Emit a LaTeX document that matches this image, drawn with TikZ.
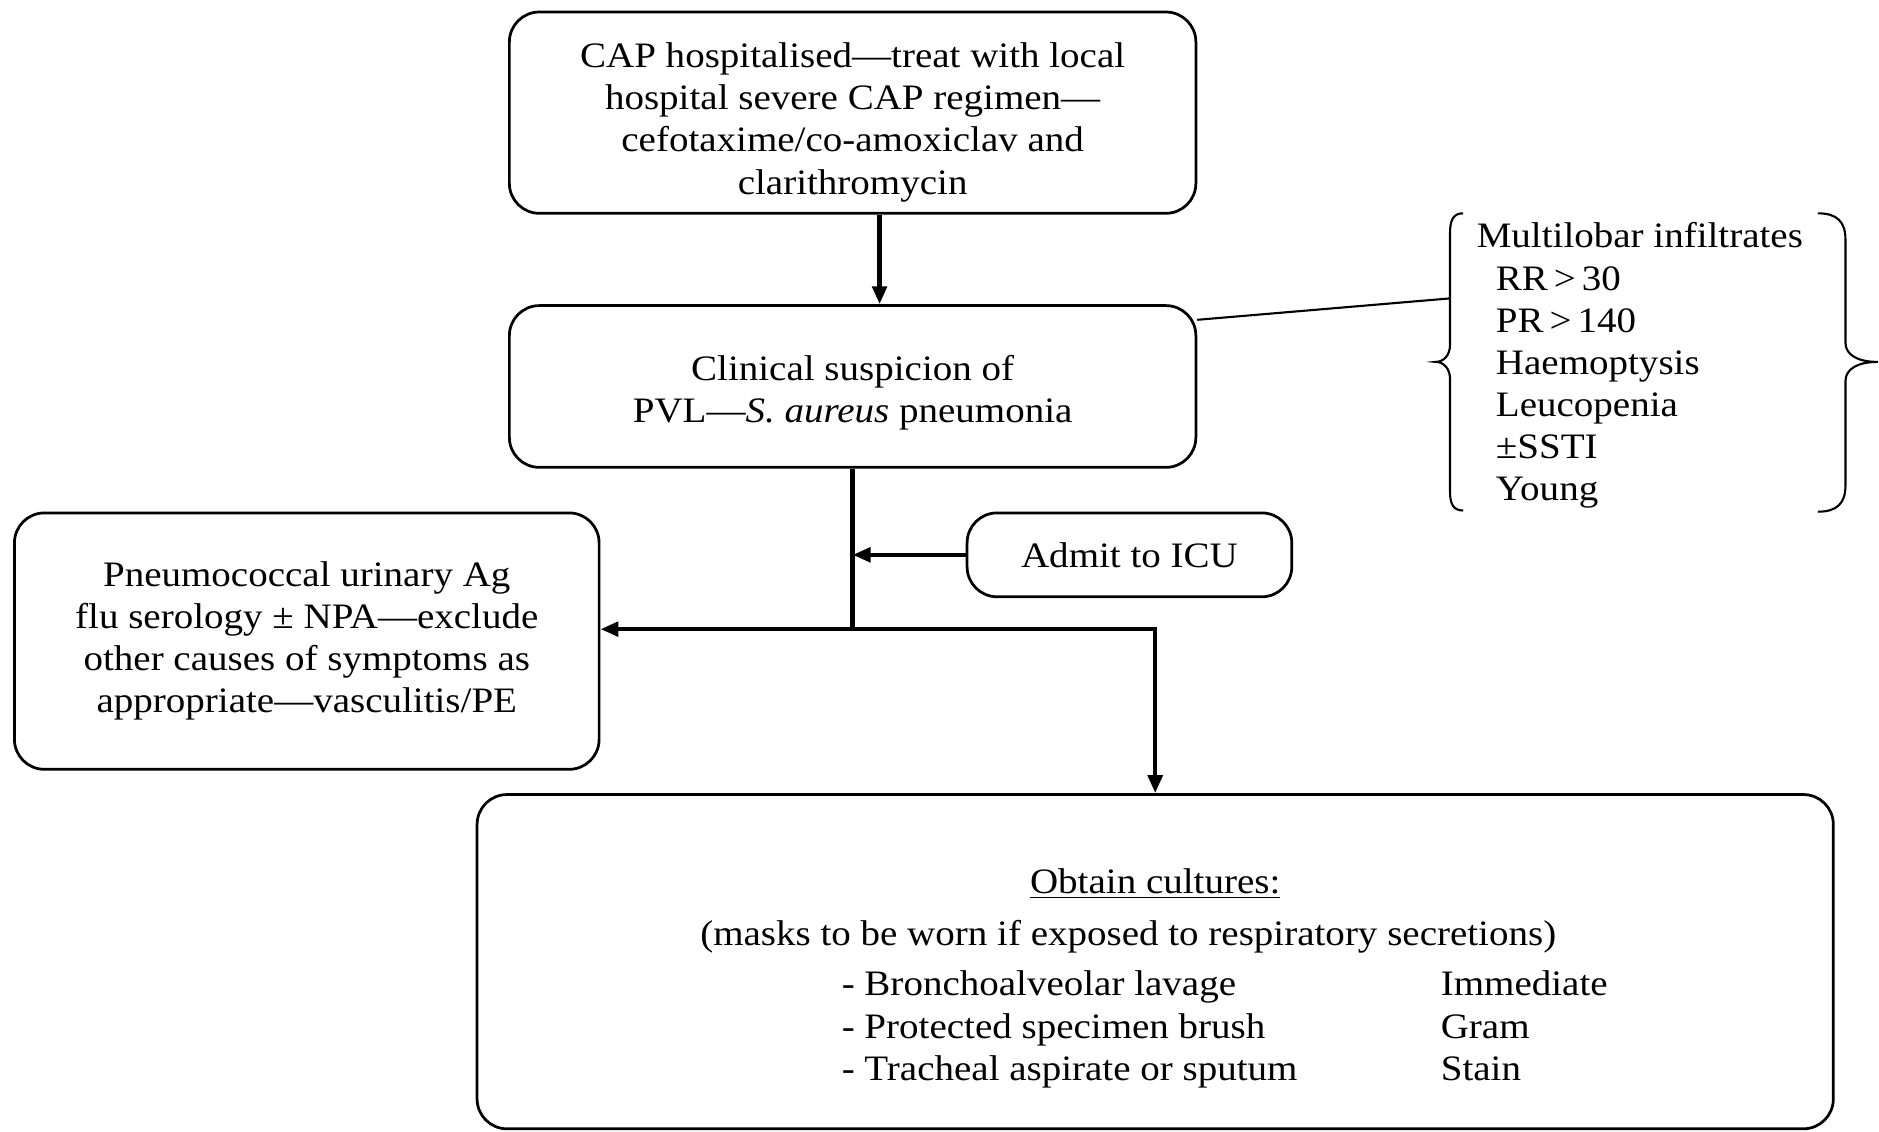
\documentclass[tikz,border=0pt]{standalone}
\usepackage{fontspec}
\setmainfont{Liberation Serif}[FakeStretch=1.09]
\usetikzlibrary{arrows.meta}

\begin{document}
\begin{tikzpicture}[
  x=0.02cm, y=-0.02cm,
  every node/.style={font=\fontsize{17}{20}\selectfont},
  box/.style={draw, rounded corners=0.5cm, line width=1.3pt, align=center, inner sep=0pt},
  flow/.style={-{Triangle[length=3mm,width=2.4mm]}, line width=2.1pt},
  trunk/.style={line width=2.1pt},
  curly/.style={line width=1pt}
]
\useasboundingbox (0,0) rectangle (1568,944);

% Main column of boxes.
\node[box, minimum width=11.46cm, minimum height=3.36cm] (cap) at (711.5,94)
  {\rule{0pt}{21pt}CAP hospitalised---treat with local\\hospital severe CAP regimen---\\
   cefotaxime/co-amoxiclav and\\clarithromycin};
\node[box, minimum width=11.46cm, minimum height=2.7cm] (susp) at (711.5,322.5)
  {\rule{0pt}{18pt}Clinical suspicion of\\PVL---\textit{S. aureus} pneumonia};
\node[box, minimum width=5.42cm, minimum height=1.4cm] (icu) at (942.5,463)
  {Admit to ICU};
\node[box, minimum width=9.76cm, minimum height=4.28cm] (urine) at (256,535)
  {Pneumococcal urinary Ag\\flu serology ± NPA---exclude\\
   other causes of symptoms as\\appropriate---vasculitis/PE};
\node[box, minimum width=22.64cm, minimum height=5.58cm] (cult) at (964,802.5)
  {\rule{0pt}{30pt}\underline{Obtain cultures:}\\[4.5pt]
   \hspace*{-0.9cm}(masks to be worn if exposed to respiratory secretions)\\[4pt]
   \hspace*{2.32cm}\begin{tabular}[t]{@{}p{10cm}@{}l@{}}
     - Bronchoalveolar lavage & Immediate\\
     - Protected specimen brush & Gram\\
     - Tracheal aspirate or sputum & Stain
   \end{tabular}};

% Clinical features in braces.
\node[anchor=west, align=left, inner sep=0pt] (crit) at (1232,305)
  {Multilobar infiltrates\\
   \hspace*{0.32cm}RR\,>\,30\\
   \hspace*{0.32cm}PR\,>\,140\\
   \hspace*{0.32cm}Haemoptysis\\
   \hspace*{0.32cm}Leucopenia\\
   \hspace*{0.32cm}±SSTI\\
   \hspace*{0.32cm}Young};
\draw[curly] (1221,178) .. controls (1213,178) and (1210,183) .. (1210,195)
  -- (1210,288) .. controls (1210,296) and (1205,302) .. (1198,302)
  .. controls (1205,302) and (1210,308) .. (1210,316)
  -- (1210,410) .. controls (1210,421) and (1213,426) .. (1221,426);
\draw[curly] (1517,178) .. controls (1533,178) and (1540,185) .. (1540,200)
  -- (1540,286) .. controls (1540,296) and (1550,302) .. (1567,302)
  .. controls (1550,302) and (1540,308) .. (1540,318)
  -- (1540,405) .. controls (1540,420) and (1533,427) .. (1517,427);
\coordinate (bl) at (1210,249);
\draw[line width=1pt] ([yshift=-7.4pt]susp.north east) -- (bl);

% Connectors.
\coordinate (j) at (711.5,525);
\draw[flow] ([xshift=0.45cm]cap.south) -- ([xshift=0.45cm]susp.north);
\draw[trunk] (susp.south) -- (j);
\draw[flow] (icu.west) -- (icu.west -| j);
\draw[flow] (j) -- (j -| urine.east);
\draw[flow] (j) -| (cult.north);
\end{tikzpicture}
\end{document}
